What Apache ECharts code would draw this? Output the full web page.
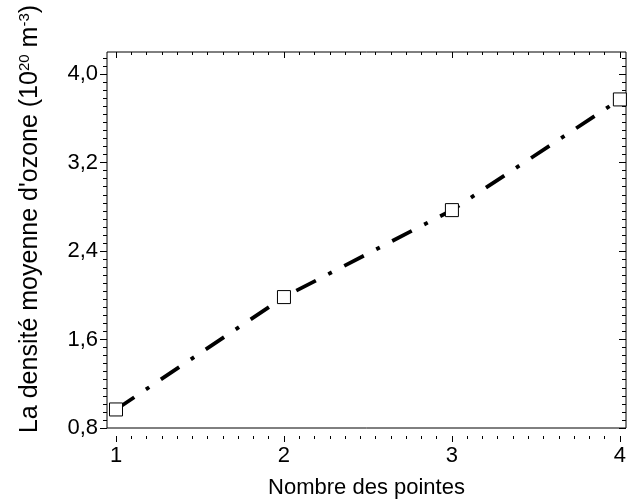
<!DOCTYPE html>
<html>
<head>
<meta charset="utf-8">
<script src="https://cdn.jsdelivr.net/npm/echarts@6/dist/echarts.min.js"></script>
<style>
  html, body { margin: 0; padding: 0; background: #fff; }
  #chart { width: 629px; height: 504px; }
</style>
</head>
<body>
<div id="chart"></div>
<script>
// data
const xValues = [1, 2, 3, 4];
const yValues = [1.035, 2.03, 2.8, 3.78];
const xTicks = [1, 2, 3, 4];
const yTicks = [0.8, 1.6, 2.4, 3.2, 4.0];
const yMin = 0.8, yMax = 4.2, yStep = 0.8;
const minorSplit = 11;

// minor ticks on y keep going past the last major tick, up to the frame
const yMinor = [];
for (let v = yMin; v <= yMax + 1e-9; v += yStep / minorSplit) yMinor.push(+v.toFixed(5));

const font = 'Liberation Sans, Arial, sans-serif';
const black = '#000';

const chart = echarts.init(document.getElementById('chart'), null, { renderer: 'canvas' });

const tickStyle = { color: black, width: 1 };

const option = {
    animation: false,
    backgroundColor: '#fff',
    grid: [
        // data area: x = 1 .. 4
        { left: 116, right: 3, top: 52, bottom: 68 },
        // frame, a little wider on the left
        { left: 107, right: 3, top: 52, bottom: 68, show: true, borderColor: black, borderWidth: 1 }
    ],
    xAxis: [{
        gridIndex: 0, type: 'value', position: 'bottom',
        min: xTicks[0], max: xTicks[xTicks.length - 1], interval: 1,
        axisLine: { show: false },
        axisTick: { length: 6, lineStyle: tickStyle },
        minorTick: { show: true, splitNumber: minorSplit, length: 3, lineStyle: tickStyle },
        axisLabel: { color: black, fontSize: 22, fontFamily: font, margin: 9 },
        splitLine: { show: false }
    }, {
        gridIndex: 0, type: 'value', position: 'top',
        min: xTicks[0], max: xTicks[xTicks.length - 1], interval: 1,
        axisLine: { show: false },
        axisTick: { inside: true, length: 6, lineStyle: tickStyle },
        minorTick: { show: true, splitNumber: minorSplit, length: 3, lineStyle: tickStyle },
        axisLabel: { show: false },
        splitLine: { show: false }
    }, {
        gridIndex: 1, type: 'value', position: 'bottom', min: 0, max: 1,
        axisLine: { show: false }, axisTick: { show: false }, axisLabel: { show: false },
        splitLine: { show: false },
        name: 'Nombre des pointes', nameLocation: 'middle', nameGap: 49,
        nameTextStyle: { color: black, fontSize: 22, fontFamily: font }
    }],
    yAxis: [{
        gridIndex: 0, type: 'value', min: yMin, max: yMax, show: false
    }, {
        gridIndex: 1, type: 'value', position: 'left',
        min: yMin, max: yMax, interval: yStep,
        axisLine: { show: false },
        axisTick: { customValues: yTicks, length: 7, lineStyle: tickStyle },
        axisLabel: {
            customValues: yTicks, color: black, fontSize: 22, fontFamily: font, margin: 9,
            formatter: v => v.toFixed(1).replace('.', ',')
        },
        splitLine: { show: false }
    }, {
        gridIndex: 1, type: 'value', position: 'left',
        min: yMin, max: yMax, interval: yStep,
        axisLine: { show: false },
        axisTick: { customValues: yMinor, length: 4, lineStyle: tickStyle },
        axisLabel: { show: false },
        splitLine: { show: false }
    }, {
        gridIndex: 1, type: 'value', position: 'right',
        min: yMin, max: yMax, interval: yStep,
        axisLine: { show: false },
        axisTick: { customValues: yTicks, inside: true, length: 7, lineStyle: tickStyle },
        axisLabel: { show: false },
        splitLine: { show: false }
    }, {
        gridIndex: 1, type: 'value', position: 'right',
        min: yMin, max: yMax, interval: yStep,
        axisLine: { show: false },
        axisTick: { customValues: yMinor, inside: true, length: 4, lineStyle: tickStyle },
        axisLabel: { show: false },
        splitLine: { show: false }
    }],
    graphic: [{
        type: 'text',
        x: 30, y: 219,
        rotation: Math.PI / 2,
        style: {
            text: "{n|La densité moyenne d'ozone (10}{s|20}{n| m}{s|-3}{n|)}",
            align: 'center',
            verticalAlign: 'middle',
            fill: black,
            rich: {
                n: { fontSize: 25, fontFamily: font, fill: black },
                s: { fontSize: 15, fontFamily: font, fill: black, verticalAlign: 'top' }
            }
        }
    }],
    series: [{
        type: 'line',
        xAxisIndex: 0,
        yAxisIndex: 0,
        data: xValues.map((x, i) => [x, yValues[i]]),
        symbol: 'rect',
        symbolSize: 13,
        showSymbol: true,
        itemStyle: { color: '#fff', borderColor: black, borderWidth: 1 },
        lineStyle: { color: black, width: 3.8, type: [22, 14, 4, 14] },
        emphasis: { disabled: true }
    }]
};

chart.setOption(option);
</script>
</body>
</html>
